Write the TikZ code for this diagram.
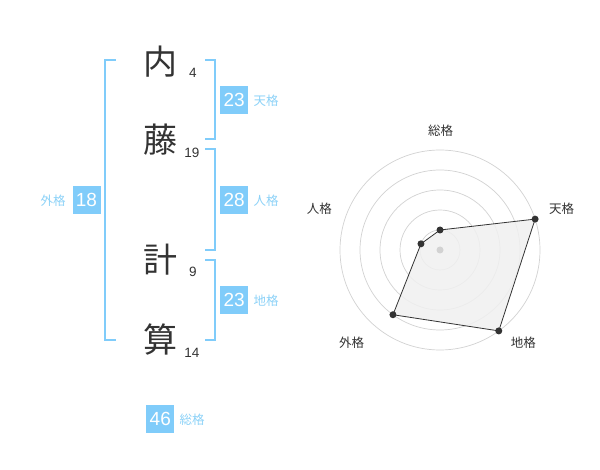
\documentclass[tikz,border=0pt]{standalone}
\usepackage{fontspec}
\setmainfont{Liberation Sans}
\newfontfamily\jp{Noto Sans CJK JP}
\definecolor{boxblue}{RGB}{128,204,250}
\definecolor{lblblue}{RGB}{140,210,248}
\definecolor{ink}{RGB}{51,51,51}
\definecolor{ring}{RGB}{210,210,210}
\definecolor{polyfill}{RGB}{240,240,240}
\tikzset{
  kanji/.style={inner sep=0pt, text=ink, font=\jp\fontsize{34}{34}\selectfont},
  strokes/.style={inner sep=0pt, text=ink, font=\fontsize{13.5}{14}\selectfont},
  valbox/.style={fill=boxblue, text=white, minimum width=28pt, minimum height=28pt, inner sep=0pt, font=\fontsize{19}{19}\selectfont},
  kaku/.style={inner sep=0pt, text=lblblue, font=\jp\fontsize{12.5}{13}\selectfont},
  bracket/.style={draw=boxblue, line width=2pt},
  radarlbl/.style={inner sep=0pt, text=ink, font=\jp\fontsize{12.5}{13}\selectfont},
  ringline/.style={draw=ring, line width=0.7pt},
  dot/.style={circle, fill=ink, inner sep=0pt, minimum size=7pt}
}
\begin{document}
\begin{tikzpicture}[x=1pt,y=-1pt]
\useasboundingbox (0,0) rectangle (600,470);
\fill[white] (0,0) rectangle (600,470);

% brackets
\coordinate (L1) at (115.5,60.5);
\coordinate (L2) at (115.5,340);
\draw[bracket] (L1) -| (105,340) -- (L2);
\coordinate (T1) at (205,60.5);
\coordinate (T2) at (205,139.5);
\draw[bracket] (T1) -| (214.5,139.5) -- (T2);
\coordinate (H1) at (205,149.5);
\coordinate (H2) at (205,250);
\draw[bracket] (H1) -| (214.5,250) -- (H2);
\coordinate (C1) at (205,260);
\coordinate (C2) at (205,340);
\draw[bracket] (C1) -| (214.5,340) -- (C2);

% kanji
\node[kanji] (k1) at (160,61.5) {内};
\node[kanji] (k2) at (160,140) {藤};
\node[kanji] (k3) at (160,260) {計};
\node[kanji] (k4) at (160,340) {算};
\node[strokes] (s1) at (193,73) {4};
\node[strokes] (s2) at (192,153.3) {19};
\node[strokes] (s3) at (193,272.3) {9};
\node[strokes] (s4) at (192,352.7) {14};

% values
\node[valbox] (ten) at (234.2,100) {23};
\node[kaku, anchor=west] (tenl) at (253.5,100.5) {天格};
\node[valbox] (jin) at (234.2,200) {28};
\node[kaku, anchor=west] (jinl) at (253.5,200.5) {人格};
\node[valbox] (chi) at (234.2,300) {23};
\node[kaku, anchor=west] (chil) at (253.5,300.5) {地格};
\node[valbox] (gai) at (86.5,200) {18};
\node[kaku] (gail) at (53,200.5) {外格};
\node[valbox] (sou) at (160.3,419) {46};
\node[kaku, anchor=west] (soul) at (179.5,419.5) {総格};

% radar
\begin{scope}[shift={(440,250)}]
  \foreach \r in {20,40,60,80,100} \draw[ringline] (0,0) circle[radius=\r];
  \coordinate (p1) at (-90:20);
  \coordinate (p2) at (-18:100);
  \coordinate (p3) at (54:100);
  \coordinate (p4) at (126:80);
  \coordinate (p5) at (-162:20);
  \filldraw[fill=polyfill, fill opacity=0.85, draw=ink, line width=0.8pt] (p1) -- (p2) -- (p3) -- (p4) -- (p5) -- cycle;
  \node[circle, fill=ring, inner sep=0pt, minimum size=7pt] (ctr) at (0,0) {};
  \foreach \p in {p1,p2,p3,p4,p5} \node[dot] (d\p) at (\p) {};
\end{scope}
\node[radarlbl] (rs) at (440.7,130.7) {総格};
\node[radarlbl] (rt) at (561.7,208.3) {天格};
\node[radarlbl] (rj) at (319.3,208.3) {人格};
\node[radarlbl] (rg) at (351.7,342.3) {外格};
\node[radarlbl] (rc) at (523.3,342.3) {地格};
\end{tikzpicture}
\end{document}
